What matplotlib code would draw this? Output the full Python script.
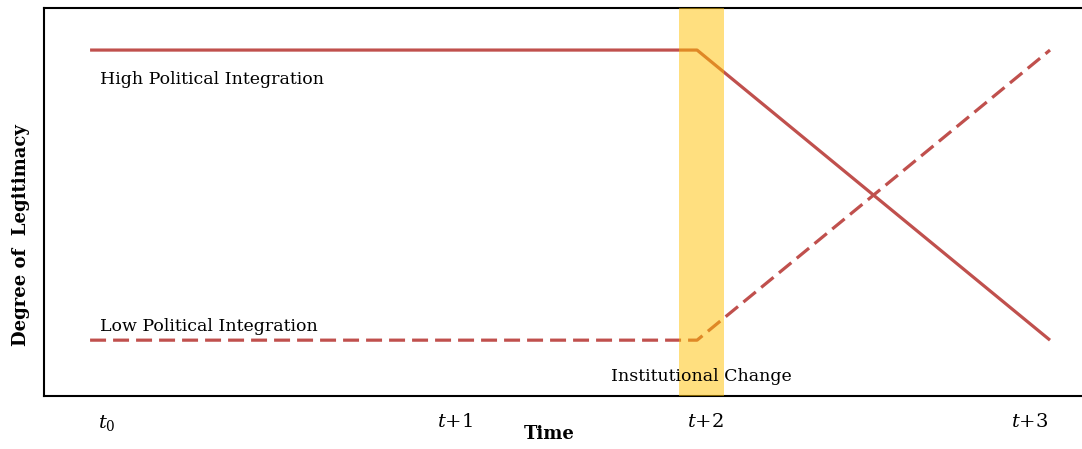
import matplotlib.pyplot as plt

# data (time in arbitrary units, legitimacy 0..1)
time = [0.0, 1.897, 3.0]
high_integration = [0.9, 0.9, 0.1]
low_integration = [0.1, 0.1, 0.9]
change_start, change_end = 1.841, 1.981
tick_pos = [0.053, 1.141, 1.922, 2.9375]
tick_labels = ['$t_0$', '$t$+1', '$t$+2', '$t$+3']

plt.rcParams['font.family'] = 'DejaVu Serif'
plt.rcParams['mathtext.fontset'] = 'dejavuserif'

RED = '#C0504D'

fig = plt.figure(figsize=(10.82, 4.49), dpi=100)
ax = fig.add_axes([44 / 1082, 53 / 449, 1038 / 1082, 388 / 449])

ax.plot(time, high_integration, color=RED, lw=2.3, solid_capstyle='butt', zorder=2)
ax.plot(time, low_integration, color=RED, lw=2.3, dashes=(5, 2.2), zorder=2)

ax.axvspan(change_start, change_end, color='#FFC000', alpha=0.5, lw=0, zorder=3)

ax.text(0.03, 0.82, 'High Political Integration', fontsize=12.5, va='center', ha='left', zorder=4)
ax.text(0.03, 0.137, 'Low Political Integration', fontsize=12.5, va='center', ha='left', zorder=4)
ax.text(1.91, -0.0, 'Institutional Change', fontsize=12.5, va='center', ha='center', zorder=4)

ax.set_xlim(-0.144, 3.1)
ax.set_ylim(-0.054, 1.016)
ax.set_xticks(tick_pos)
ax.set_xticklabels(tick_labels, fontsize=14)
ax.set_yticks([])
ax.tick_params(axis='x', length=0, pad=12)

ax.set_xlabel('Time', fontsize=13, fontweight='bold')
ax.set_ylabel('Degree of  Legitimacy', fontsize=13, fontweight='bold')
ax.xaxis.set_label_coords(0.487, -0.075)
ax.yaxis.set_label_coords(-0.0135, 0.415)

for s in ax.spines.values():
    s.set_linewidth(1.5)
ax.spines['right'].set_visible(False)

fig.savefig('out.png', dpi=100)
